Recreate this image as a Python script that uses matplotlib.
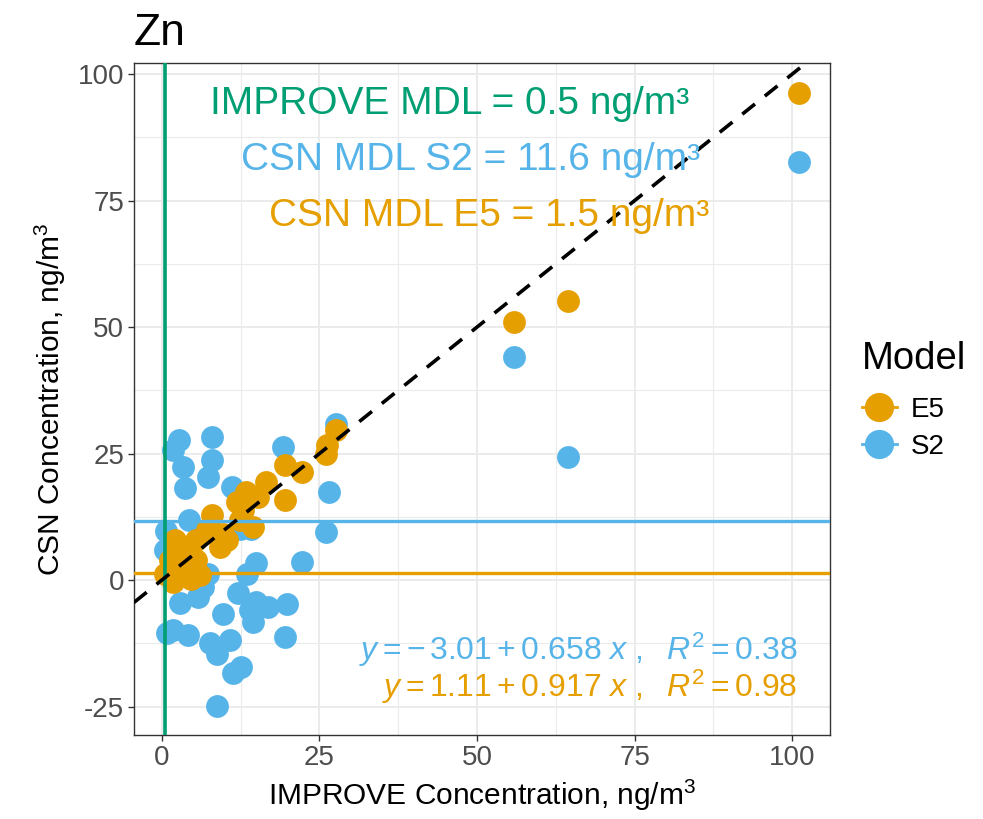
import matplotlib
matplotlib.use("Agg")
import matplotlib.pyplot as plt
from matplotlib.lines import Line2D
import numpy as np

plt.rcParams['font.family'] = ['Liberation Sans', 'DejaVu Sans']
plt.rcParams['mathtext.fontset'] = 'custom'
plt.rcParams['mathtext.rm'] = 'Liberation Sans'
plt.rcParams['mathtext.it'] = 'Liberation Sans:italic'
plt.rcParams['axes.unicode_minus'] = False

# S2 model (CSN vs IMPROVE), ng/m3
s2_x = [2.75, 8.0, 1.8, 3.3, 7.9, 7.3, 3.7, 19.3, 11.1, 27.6, 26.5, 26.0, 22.2,
        4.4, 0.7, 0.5, 12.4, 14.2, 15.0, 13.5, 7.4, 2.9, 5.8, 6.6, 12.1, 9.7,
        15.0, 16.9, 19.8, 14.5, 14.0, 0.8, 1.8, 4.2, 7.6, 8.7, 10.8, 19.5,
        11.3, 12.6, 8.7, 55.8, 64.4, 101.1]
s2_y = [27.7, 28.3, 25.7, 22.4, 23.7, 20.3, 18.3, 26.3, 18.4, 30.8, 17.5, 9.5, 3.5,
        11.9, 9.7, 5.9, 10.2, 10.2, 3.4, 1.3, 1.3, -4.6, -3.3, -1.3, -2.6, -6.6,
        -4.3, -5.3, -4.7, -8.2, -5.9, -10.5, -9.9, -10.9, -12.5, -14.5, -11.9, -11.3,
        -18.4, -17.1, -24.9, 44.1, 24.4, 82.7]

# E5 model
e5_x = [27.7, 26.2, 26.1, 19.5, 22.2, 19.5, 16.6, 15.3, 13.4, 11.9, 14.5, 12.4,
        12.9, 7.9, 9.7, 9.2, 7.1, 5.5, 4.4, 2.3, 1.3, 2.9, 6.0, 3.9, 1.8, 0.5,
        5.5, 10.3, 2.1, 4.6, 55.8, 64.4, 101.1]
e5_y = [29.6, 26.7, 25.0, 22.7, 21.4, 15.8, 19.4, 16.5, 17.5, 15.5, 10.5, 11.9,
        13.8, 12.8, 9.2, 6.6, 9.9, 7.9, 6.6, 6.6, 4.0, 4.6, 1.0, 2.3, -0.3, 1.3,
        4.0, 7.9, 7.9, 0.3, 51.0, 55.2, 96.2]

improve_mdl = 0.5
csn_mdl_s2 = 11.6
csn_mdl_e5 = 1.5

c_e5 = '#E69F00'
c_s2 = '#56B4E9'
c_green = '#009E73'

fig = plt.figure(figsize=(9.83, 8.19), dpi=100)
ax = fig.add_axes([134 / 983, 84 / 819, 696 / 983, 672 / 819])

ax.scatter(s2_x, s2_y, s=270, color=c_s2, linewidths=0, zorder=3)
ax.scatter(e5_x, e5_y, s=270, color=c_e5, linewidths=0, zorder=4)

ax.axhline(csn_mdl_s2, color=c_s2, lw=2.4, zorder=5)
ax.axhline(csn_mdl_e5, color=c_e5, lw=2.4, zorder=5)
ax.axvline(improve_mdl, color=c_green, lw=2.6, zorder=5)
ax.axline((0, 0), slope=1, color='black', lw=2.6, ls=(0, (4.5, 3.5)), zorder=6)

ax.set_xlim(-4.4, 106.0)
ax.set_ylim(-30.6, 102.2)

ax.set_xticks([0, 25, 50, 75, 100])
ax.set_yticks([-25, 0, 25, 50, 75, 100])
ax.set_xticks([12.5, 37.5, 62.5, 87.5], minor=True)
ax.set_yticks([-12.5, 12.5, 37.5, 62.5, 87.5], minor=True)
ax.grid(which='major', color='#EBEBEB', lw=1.4, zorder=0)
ax.grid(which='minor', color='#EBEBEB', lw=0.8, zorder=0)
ax.set_axisbelow(True)
ax.tick_params(which='major', length=4, width=1, color='#333333',
               labelsize=20, labelcolor='#4D4D4D', pad=3)
ax.tick_params(which='minor', length=0)
for sp in ax.spines.values():
    sp.set_color('#333333')
    sp.set_linewidth(1)

ax.set_xlabel('IMPROVE Concentration, ng/m$^3$', fontsize=21.5, labelpad=5)
ax.set_ylabel('CSN Concentration, ng/m$^3$', fontsize=21.5, labelpad=7)
ax.set_title('Zn', fontsize=32, loc='left', pad=13)

ax.text(45.7, 94, 'IMPROVE MDL = 0.5 ng/m³', color=c_green, fontsize=28,
        ha='center', va='center', zorder=7)
ax.text(49.0, 83, 'CSN MDL S2 = 11.6 ng/m³', color=c_s2, fontsize=28,
        ha='center', va='center', zorder=7)
ax.text(52.0, 72, 'CSN MDL E5 = 1.5 ng/m³', color=c_e5, fontsize=28,
        ha='center', va='center', zorder=7)

ax.text(100.8, -13.8, r'$y = -\,3.01 + 0.658\ x\ ,\ \ R^2 = 0.38$', color=c_s2,
        fontsize=23, ha='right', va='center', zorder=7)
ax.text(100.8, -21.0, r'$y = 1.11 + 0.917\ x\ ,\ \ R^2 = 0.98$', color=c_e5,
        fontsize=23, ha='right', va='center', zorder=7)

handles = [Line2D([0], [0], color=c_e5, lw=2, marker='o', markersize=20),
           Line2D([0], [0], color=c_s2, lw=2, marker='o', markersize=20)]
leg = fig.legend(handles, ['E5', 'S2'], title='Model', loc='upper left',
                 bbox_to_anchor=(851 / 983, 1 - 330 / 819), frameon=False,
                 fontsize=20, title_fontsize=27.5, handlelength=1.25,
                 handletextpad=0.5, labelspacing=0.4, borderaxespad=0)
leg._legend_box.align = 'left'
leg._legend_box.sep = 14

fig.savefig('out.png', dpi=100)
